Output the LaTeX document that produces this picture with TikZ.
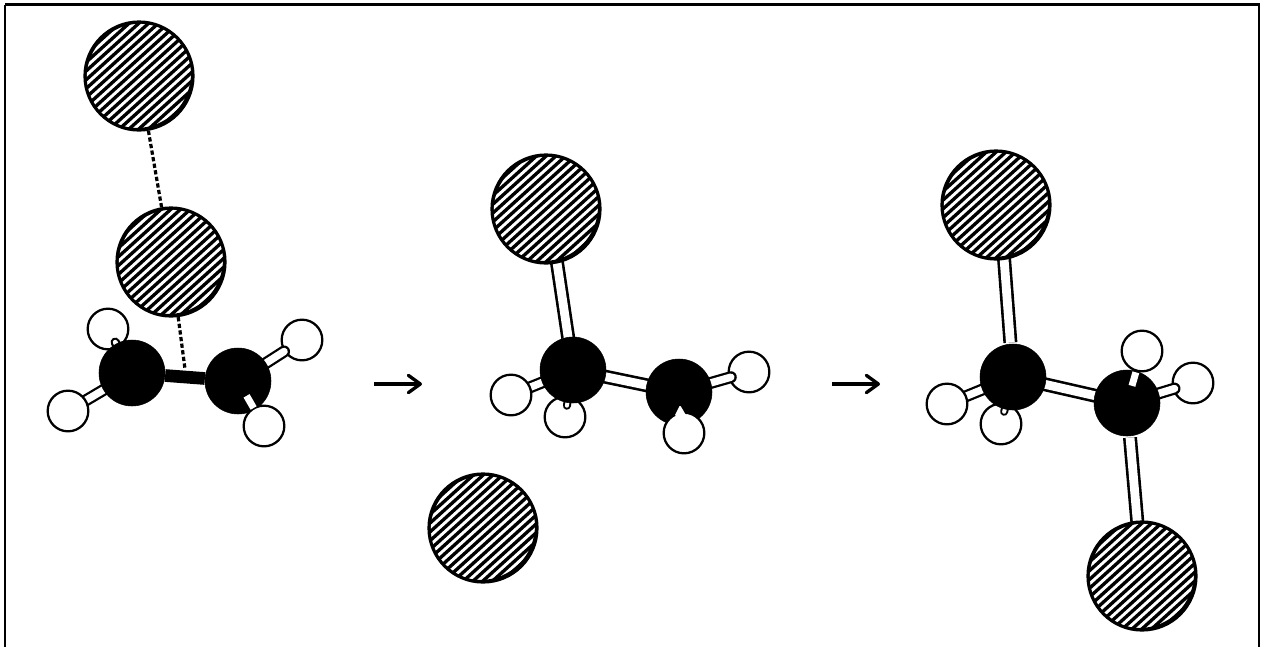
\documentclass[tikz,border=0pt]{standalone}
\usetikzlibrary{calc,arrows.meta}
\pgfdeclarelayer{paper}
\pgfdeclarelayer{bondback}
\pgfdeclarelayer{hback}
\pgfdeclarelayer{stub}
\pgfdeclarelayer{top}
\pgfsetlayers{paper,bondback,hback,stub,main,top}
\tikzset{
  x=0.75pt,y=-0.75pt,
  frameline/.style={draw=black,line width=2pt},
  carbon/.style={circle,fill=black,draw=black,inner sep=0pt,minimum size=49.5pt},
  hydrogen/.style={circle,fill=white,draw=black,line width=1.7pt,inner sep=0pt,minimum size=30.5pt},
  chlorine/.style={circle,fill=white,draw=black,line width=2.4pt,inner sep=0pt,minimum size=81pt,
    path picture={
      \foreach \k in {-9,...,9}{
        \draw[line width=2.5pt,black]
          ($(path picture bounding box.center)+(-63pt,-57pt)+(\k*3.28pt,-\k*3.64pt)$) --
          ($(path picture bounding box.center)+(63pt,57pt)+(\k*3.28pt,-\k*3.64pt)$);
      }
      \fill[black,even odd rule] (path picture bounding box.center) circle[radius=41pt]
        ($(path picture bounding box.center)+(1.6pt,-1.6pt)$) circle[radius=41pt];
      \fill[black,even odd rule] (path picture bounding box.center) circle[radius=41pt]
        ($(path picture bounding box.center)+(-2pt,2pt)$) circle[radius=41pt];
    }},
  bondout/.style={draw=black,line width=9pt},
  bondin/.style={draw=white,line width=5.6pt},
  wideout/.style={draw=black,line width=10.5pt},
  widein/.style={draw=white,line width=6.6pt},
  weak/.style={draw=black,line width=2.4pt,dash pattern=on 3.2pt off 1.8pt},
  reaction/.style={draw=black,line width=2.5pt,-{Straight Barb[length=9pt,width=13pt,line width=2.5pt,round]}},
}
% bond: layer, a, b, from fraction, to fraction
\newcommand{\molbond}[5]{\begin{pgfonlayer}{#1}
  \draw[bondout] ($(#2)!#4!(#3)$) -- ($(#2)!#5!(#3)$);
  \draw[bondin] ($(#2)!#4!(#3)$) -- ($(#2)!#5!(#3)$);
\end{pgfonlayer}}
\newcommand{\longbond}[5]{\begin{pgfonlayer}{#1}
  \draw[wideout] ($(#2)!#4!(#3)$) -- ($(#2)!#5!(#3)$);
  \draw[widein] ($(#2)!#4!(#3)$) -- ($(#2)!#5!(#3)$);
\end{pgfonlayer}}
% outlined bond end lying on a hydrogen: a, b, to fraction, outer width, inner width
\newcommand{\stubbond}[5]{\begin{pgfonlayer}{stub}
  \draw[draw=black,line width=#4,line cap=round] ($(#1)!0.3!(#2)$) -- ($(#1)!#3!(#2)$);
  \draw[draw=white,line width=#5,line cap=round] ($(#1)!0.3!(#2)$) -- ($(#1)!#3!(#2)$);
\end{pgfonlayer}}
% white part of a bond seen on a dark atom, with no outline
\newcommand{\frontbond}[4]{\begin{pgfonlayer}{top}
  \draw[draw=white,line width=5.2pt] ($(#1)!#3!(#2)$) -- ($(#1)!#4!(#2)$);
\end{pgfonlayer}}
\begin{document}
\begin{tikzpicture}
\useasboundingbox (0,0) rectangle (1261,647);
\begin{pgfonlayer}{paper}
\fill[white] (0,0) rectangle (1261,647);
\draw[frameline] (5,4.5) -- (1259,4.5) -- (1259,647) (5,4.5) -- (5,647);
\end{pgfonlayer}

% ---------- left molecule
\node[chlorine] (a1) at (139,76) {};
\node[chlorine] (a2) at (171,262) {};
\node[carbon] (ac1) at (132,373) {};
\node[carbon] (ac2) at (238,381) {};
\begin{pgfonlayer}{hback}
\node[hydrogen] (ah1) at (108,329) {};
\node[hydrogen] (ah2) at (68,411) {};
\node[hydrogen] (ah3) at (302,340) {};
\end{pgfonlayer}
\begin{pgfonlayer}{top}
\node[hydrogen] (ah4) at (264,426) {};
\end{pgfonlayer}
\draw[weak] (a1) -- (a2);
\coordinate (amid) at (185,369);
\draw[weak] (a2) -- (amid);
\draw[draw=black,line width=9.5pt] (ac1) -- (ac2);
\stubbond{ac1}{ah1}{0.7}{7pt}{3.6pt}
\molbond{bondback}{ac1}{ah2}{0.4}{0.8}
\stubbond{ac2}{ah3}{0.72}{9pt}{5.6pt}
\frontbond{ac2}{ah4}{0.33}{0.6}

% ---------- middle molecule
\node[chlorine] (b1) at (546,209) {};
\node[chlorine] (b2) at (483,528) {};
\node[carbon] (bc1) at (573,370) {};
\node[carbon] (bc2) at (679,392) {};
\begin{pgfonlayer}{hback}
\node[hydrogen] (bh1) at (511,395) {};
\node[hydrogen] (bh2) at (565,417) {};
\node[hydrogen] (bh3) at (749,372) {};
\end{pgfonlayer}
\begin{pgfonlayer}{top}
\node[hydrogen] (bh4) at (684,433) {};
\end{pgfonlayer}
\coordinate (b1foot) at ($(b1)+(3,0)$);
\longbond{bondback}{b1foot}{bc1}{0.3}{0.8}
\longbond{bondback}{bc1}{bc2}{0.2}{0.8}
\molbond{bondback}{bc1}{bh1}{0.4}{0.8}
\stubbond{bc1}{bh2}{0.76}{6pt}{3pt}
\stubbond{bc2}{bh3}{0.74}{9pt}{5.6pt}
\begin{pgfonlayer}{top}
\fill[white,rounded corners=1pt] ($(bh4)+(-4,-28)$) -- ($(bh4)+(2.5,-17)$) -- ($(bh4)+(-9.5,-17)$) -- cycle;
\end{pgfonlayer}

% ---------- right molecule
\node[chlorine] (c1) at (996,205) {};
\node[chlorine] (c2) at (1142,576) {};
\node[carbon] (cc1) at (1013,377) {};
\node[carbon] (cc2) at (1127,403) {};
\begin{pgfonlayer}{hback}
\node[hydrogen] (ch1) at (947,404) {};
\node[hydrogen] (ch2) at (1001,424) {};
\node[hydrogen] (ch4) at (1193,383) {};
\end{pgfonlayer}
\begin{pgfonlayer}{top}
\node[hydrogen] (ch3) at (1142,351) {};
\end{pgfonlayer}
\coordinate (c1foot) at ($(c1)+(4,0)$);
\longbond{bondback}{c1foot}{cc1}{0.3}{0.8}
\longbond{bondback}{cc2}{c2}{0.2}{0.7}
\longbond{bondback}{cc1}{cc2}{0.2}{0.8}
\molbond{bondback}{cc1}{ch1}{0.4}{0.8}
\stubbond{cc1}{ch2}{0.74}{6pt}{3pt}
\stubbond{cc2}{ch4}{0.72}{9pt}{5.6pt}
\frontbond{cc2}{ch3}{0.33}{0.59}

% ---------- reaction arrows
\coordinate (r1s) at (374,384); \coordinate (r1e) at (422,384);
\coordinate (r2s) at (832,384); \coordinate (r2e) at (880,384);
\draw[reaction] (r1s) -- (r1e);
\draw[reaction] (r2s) -- (r2e);
\end{tikzpicture}
\end{document}
